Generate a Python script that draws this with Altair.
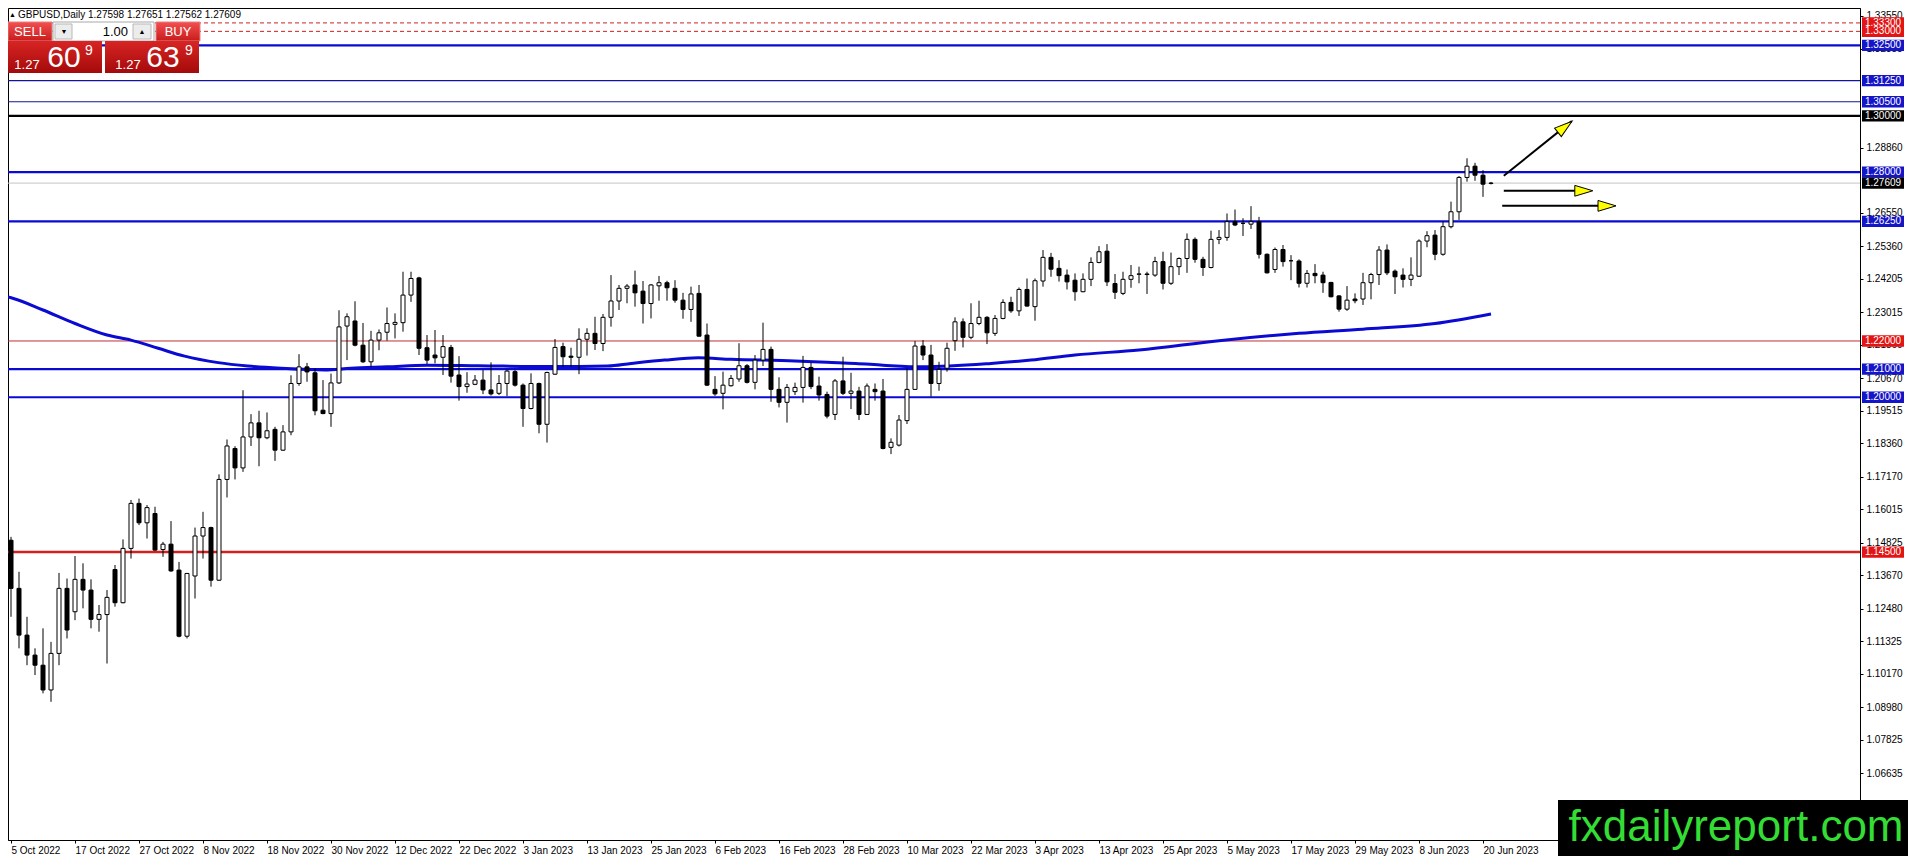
import altair as alt
import pandas as pd

FONT = "Liberation Sans"
W, H = 1852, 832

OPEN = [1.1492,1.1321,1.1155,1.1084,1.1048,1.0960,1.1090,1.1321,1.1238,1.1353,
1.1315,1.1211,1.1228,1.1388,1.1270,1.1463,1.1623,1.1554,1.1587,1.1459,
1.1478,1.1386,1.1151,1.1365,1.1507,1.1537,1.1350,1.1708,1.1818,1.1749,
1.1859,1.1909,1.1856,1.1886,1.1812,1.1877,1.2049,1.2108,1.2087,1.1954,
1.1942,1.2051,1.2253,1.2271,1.2185,1.2126,1.2203,1.2231,1.2259,1.2265,
1.2363,1.2424,1.2176,1.2150,1.2142,1.2177,1.2079,1.2038,1.2046,1.2061,
1.2026,1.2014,1.2049,1.2091,1.2043,1.1960,1.2049,1.1904,1.2082,1.2180,
1.2146,1.2142,1.2206,1.2227,1.2191,1.2284,1.2342,1.2387,1.2399,1.2377,
1.2333,1.2396,1.2407,1.2387,1.2345,1.2312,1.2369,1.2221,1.2028,1.2014,
1.2041,1.2065,1.2112,1.2053,1.2132,1.2170,1.2028,1.1982,1.2020,1.2035,
1.2106,1.2040,1.2010,1.1939,1.2058,1.2014,1.2022,1.1939,1.2028,1.2022,
1.1822,1.1830,1.1917,1.2028,1.2182,1.2150,1.2049,1.2103,1.2201,1.2268,
1.2213,1.2262,1.2284,1.2227,1.2280,1.2337,1.2307,1.2383,1.2322,1.2413,
1.2497,1.2458,1.2434,1.2416,1.2375,1.2419,1.2479,1.2519,1.2404,1.2369,
1.2419,1.2437,1.2438,1.2434,1.2482,1.2405,1.2464,1.2493,1.2561,1.2490,
1.2461,1.2561,1.2568,1.2624,1.2618,1.2615,1.2624,1.2508,1.2454,1.2525,
1.2485,1.2484,1.2405,1.2440,1.2434,1.2408,1.2360,1.2313,1.2349,1.2349,
1.2407,1.2436,1.2523,1.2448,1.2434,1.2419,1.2430,1.2555,1.2576,1.2508,
1.2606,1.2659,1.2781,1.2821,1.2789,1.27598]

HIGH = [1.1504,1.1380,1.1220,1.1108,1.1179,1.1131,1.1376,1.1356,1.1436,1.1410,
1.1353,1.1262,1.1315,1.1404,1.1495,1.1635,1.1640,1.1617,1.1611,1.1486,
1.1560,1.1415,1.1376,1.1537,1.1593,1.1540,1.1726,1.1850,1.1826,1.2025,
1.1940,1.1952,1.1946,1.1895,1.1901,1.2078,1.2153,1.2122,1.2102,1.2061,
1.2084,1.2309,1.2298,1.2341,1.2264,1.2236,1.2241,1.2319,1.2298,1.2446,
1.2446,1.2428,1.2221,1.2239,1.2221,1.2186,1.2146,1.2089,1.2079,1.2097,
1.2124,1.2079,1.2099,1.2097,1.2049,1.2085,1.2052,1.2091,1.2207,1.2194,
1.2176,1.2245,1.2245,1.2286,1.2296,1.2434,1.2399,1.2402,1.2450,1.2413,
1.2402,1.2431,1.2414,1.2416,1.2371,1.2393,1.2399,1.2262,1.2075,1.2091,
1.2079,1.2192,1.2118,1.2150,1.2265,1.2180,1.2071,1.2047,1.2052,1.2147,
1.2123,1.2073,1.2020,1.2065,1.2144,1.2087,1.2037,1.2049,1.2049,1.2065,
1.1854,1.1937,1.2103,1.2200,1.2203,1.2186,1.2126,1.2194,1.2284,1.2280,
1.2334,1.2343,1.2288,1.2292,1.2348,1.2357,1.2390,1.2422,1.2422,1.2523,
1.2513,1.2487,1.2454,1.2440,1.2440,1.2497,1.2537,1.2544,1.2438,1.2446,
1.2470,1.2464,1.2446,1.2499,1.2517,1.2514,1.2497,1.2582,1.2568,1.2499,
1.2592,1.2594,1.2653,1.2667,1.2636,1.2679,1.2641,1.2511,1.2532,1.2541,
1.2505,1.2490,1.2452,1.2473,1.2446,1.2410,1.2363,1.2395,1.2369,1.2442,
1.2442,1.2537,1.2543,1.2454,1.2458,1.2497,1.2561,1.2590,1.2594,1.2624,
1.2695,1.2786,1.2849,1.2833,1.2807,1.27651]

LOW = [1.1220,1.1108,1.1048,1.1013,1.0948,1.0918,1.1048,1.1143,1.1208,1.1250,
1.1179,1.1167,1.1054,1.1256,1.1268,1.1427,1.1546,1.1498,1.1455,1.1433,
1.1380,1.1147,1.1143,1.1285,1.1427,1.1327,1.1348,1.1644,1.1708,1.1735,
1.1827,1.1755,1.1851,1.1774,1.1810,1.1865,1.2041,1.2055,1.1936,1.1940,
1.1895,1.2047,1.2132,1.2181,1.2122,1.2108,1.2167,1.2201,1.2209,1.2233,
1.2339,1.2150,1.2118,1.2120,1.2079,1.2052,1.1988,1.2016,1.2043,1.2011,
1.2006,1.2008,1.2004,1.2038,1.1895,1.1957,1.1872,1.1839,1.2079,1.2109,
1.2109,1.2082,1.2148,1.2168,1.2164,1.2251,1.2310,1.2334,1.2322,1.2262,
1.2280,1.2343,1.2343,1.2336,1.2279,1.2268,1.2215,1.2040,1.2005,1.1957,
1.2038,1.2055,1.2049,1.2028,1.2111,1.1984,1.1964,1.1910,1.2008,1.1981,
1.2029,1.1988,1.1925,1.1919,1.2008,1.1958,1.1919,1.1937,1.1988,1.1815,
1.1798,1.1825,1.1905,1.2026,1.2132,1.2002,1.2023,1.2091,1.2165,1.2177,
1.2206,1.2256,1.2189,1.2218,1.2277,1.2300,1.2289,1.2322,1.2272,1.2393,
1.2428,1.2411,1.2383,1.2343,1.2373,1.2395,1.2476,1.2395,1.2349,1.2363,
1.2389,1.2405,1.2367,1.2428,1.2383,1.2399,1.2434,1.2442,1.2478,1.2431,
1.2458,1.2544,1.2556,1.2608,1.2573,1.2598,1.2493,1.2440,1.2442,1.2464,
1.2416,1.2390,1.2390,1.2405,1.2371,1.2355,1.2304,1.2307,1.2334,1.2328,
1.2348,1.2399,1.2434,1.2367,1.2390,1.2395,1.2428,1.2533,1.2487,1.2503,
1.2600,1.2630,1.2766,1.2769,1.2712,1.27562]

CLOSE = [1.1321,1.1155,1.1084,1.1048,1.0960,1.1090,1.1321,1.1173,1.1353,1.1315,
1.1211,1.1228,1.1289,1.1270,1.1463,1.1623,1.1554,1.1608,1.1457,1.1478,
1.1383,1.1151,1.1374,1.1507,1.1537,1.1350,1.1708,1.1827,1.1749,1.1859,
1.1909,1.1856,1.1881,1.1812,1.1877,1.2049,1.2108,1.2090,1.1952,1.1942,
1.2051,1.2250,1.2286,1.2185,1.2126,1.2203,1.2229,1.2262,1.2266,1.2363,
1.2422,1.2174,1.2132,1.2140,1.2180,1.2075,1.2038,1.2047,1.2061,1.2026,
1.2012,1.2049,1.2093,1.2043,1.1960,1.2049,1.1904,1.2088,1.2177,1.2144,
1.2142,1.2206,1.2227,1.2191,1.2284,1.2342,1.2387,1.2395,1.2371,1.2333,
1.2399,1.2407,1.2389,1.2345,1.2312,1.2367,1.2217,1.2043,1.2012,1.2043,
1.2067,1.2112,1.2053,1.2132,1.2170,1.2028,1.1982,1.2035,1.2035,1.2106,
1.2038,1.2008,1.1933,1.2058,1.2014,1.2022,1.1939,1.2040,1.2020,1.1818,
1.1840,1.1919,1.2028,1.2182,1.2150,1.2049,1.2099,1.2174,1.2268,1.2213,
1.2262,1.2284,1.2229,1.2280,1.2337,1.2307,1.2383,1.2324,1.2414,1.2497,
1.2455,1.2432,1.2410,1.2375,1.2419,1.2479,1.2517,1.2410,1.2373,1.2419,
1.2432,1.2438,1.2436,1.2482,1.2405,1.2464,1.2493,1.2561,1.2490,1.2461,
1.2561,1.2568,1.2624,1.2612,1.2618,1.2624,1.2508,1.2442,1.2525,1.2482,
1.2485,1.2405,1.2440,1.2432,1.2407,1.2357,1.2313,1.2345,1.2343,1.2407,
1.2436,1.2523,1.2442,1.2428,1.2419,1.2434,1.2555,1.2574,1.2508,1.2606,
1.2659,1.2781,1.2821,1.2789,1.2757,1.27609]

DATE_LABELS = ["5 Oct 2022","17 Oct 2022","27 Oct 2022","8 Nov 2022","18 Nov 2022",
"30 Nov 2022","12 Dec 2022","22 Dec 2022","3 Jan 2023","13 Jan 2023","25 Jan 2023",
"6 Feb 2023","16 Feb 2023","28 Feb 2023","10 Mar 2023","22 Mar 2023","3 Apr 2023",
"13 Apr 2023","25 Apr 2023","5 May 2023","17 May 2023","29 May 2023","8 Jun 2023",
"20 Jun 2023"]

MA_IDX = [-0.375,0.3,4,8,12,15,18.4,21.7,25.9,29.6,33.8,39.2,42.5,47,52,58.4,67.5,74.6,
77.5,81.7,85.9,90,98,102,105.6,109,114,122.5,127.5,133,141,151,161,169,178,185]
MA_VAL = [1.2356,1.2351,1.2310,1.2262,1.2221,1.2203,1.2174,1.2146,1.2123,1.2111,1.2103,
1.2097,1.2103,1.2108,1.2114,1.2112,1.2109,1.2111,1.2120,1.2132,1.2140,1.2135,1.2129,
1.2124,1.2120,1.2114,1.2108,1.2120,1.2132,1.2150,1.2168,1.2201,1.2227,1.2242,1.2262,1.2296]

BLUE_THICK = [1.325, 1.28, 1.2625, 1.21, 1.20]
BLUE_THIN = [1.3125, 1.305]
BLACK_LEVEL = [1.30]
RED_THIN = [1.22]
RED_THICK = [1.145]
RED_DASHED = [1.333, 1.330]
CURRENT = [1.27609]

BOX_RED = [1.333, 1.330, 1.22, 1.145]
BOX_BLUE = [1.325, 1.3125, 1.305, 1.28, 1.2625, 1.21, 1.20]
BOX_BLACK = [1.30, 1.27609]

Y_TICKS = [1.3355,1.32385,1.2886,1.2655,1.2536,1.24205,1.23015,
1.2186,1.2067,1.19515,1.1836,1.1717,1.16015,1.14825,1.1367,1.1248,1.11325,1.1017,
1.0898,1.07825,1.06635]

ARROW_X0 = [186.6, 186.6, 186.4]
ARROW_Y0 = [1.2787, 1.27336, 1.2680]
ARROW_X1 = [195.1, 196.6, 199.4]
ARROW_Y1 = [1.2981, 1.27336, 1.2680]
HEAD_X = [194.25, 196.6, 199.5]
HEAD_Y = [1.2961, 1.27336, 1.2680]
HEAD_ANGLE = [321.5, 0, 0]

BLUE = "#0a0ad2"
XS = alt.Scale(domain=[-0.375, 231.125], nice=False, zero=False, padding=0)
YS = alt.Scale(domain=[1.0427, 1.3383], nice=False, zero=False, padding=0)

df = pd.DataFrame({"i": list(range(len(OPEN))), "open": OPEN, "high": HIGH,
                   "low": LOW, "close": CLOSE})

label_arr = "[" + ",".join("'" + s + "'" for s in DATE_LABELS) + "]"
XA = alt.Axis(values=list(range(0, 8 * len(DATE_LABELS), 8)),
              labelExpr=label_arr + "[round(datum.value/8)]",
              labelAlign="left", labelBaseline="top", labelPadding=2,
              tickSize=3, tickColor="black", domainColor="black",
              labelColor="black", labelFont=FONT, labelFontSize=10,
              grid=False, title=None, labelOverlap=False, labelFlush=False,
              labelBound=False, orient="bottom")
YA = alt.Axis(values=Y_TICKS, format=".5f", orient="right", tickSize=3,
              tickColor="black", domainColor="black", labelColor="black",
              labelFont=FONT, labelFontSize=10, labelPadding=3, grid=False,
              title=None, labelOverlap=False, labelFlush=False, zindex=0)


def X(field):
    return alt.X(field, scale=XS, axis=XA)


def Y(field):
    return alt.Y(field, scale=YS, axis=YA)


def levels(vals, color, width, dash=None):
    kw = dict(color=color, strokeWidth=width)
    if dash:
        kw["strokeDash"] = dash
    return alt.Chart(pd.DataFrame({"p": vals})).mark_rule(**kw).encode(y=Y("p:Q"))


BOX_PATH = "M-1,-0.27L1,-0.27L1,0.27L-1,0.27Z"


def boxes(vals, color):
    d = pd.DataFrame({"p": vals, "t": [f"{v:.5f}" for v in vals]})
    b = alt.Chart(d).mark_point(shape=BOX_PATH, size=1764, filled=True, fill=color,
                                opacity=1, strokeWidth=0).encode(
        x=alt.value(W + 23), y=Y("p:Q"))
    t = alt.Chart(d).mark_text(color="white", font=FONT, fontSize=10, align="center",
                               baseline="middle").encode(
        x=alt.value(W + 23), y=Y("p:Q"), text="t:N")
    return [b, t]


ONE = pd.DataFrame({"k": [0]})


def prect(x0, x1, y0, y1, fill, stroke=None):
    kw = dict(fill=fill)
    if stroke:
        kw["stroke"] = stroke
        kw["strokeWidth"] = 1
    return alt.Chart(ONE).mark_rect(**kw).encode(
        x=alt.value(x0), x2=alt.value(x1), y=alt.value(y0), y2=alt.value(y1))


def ptext(x, y, s, size, color, align="center", weight="normal", font=FONT):
    return alt.Chart(ONE).mark_text(text=s, fontSize=size, color=color, align=align,
                                    baseline="middle", font=font,
                                    fontWeight=weight).encode(
        x=alt.value(x), y=alt.value(y))


def grad(c0, c1):
    return alt.LinearGradient(gradient="linear",
                              stops=[alt.GradientStop(color=c0, offset=0),
                                     alt.GradientStop(color=c1, offset=1)],
                              x1=0, x2=0, y1=0, y2=1)


wicks = alt.Chart(df).mark_rule(color="black", strokeWidth=1).encode(
    x=X("i:Q"), y=Y("low:Q"), y2="high:Q")

layers = [
    levels(CURRENT, "#c4c4c4", 1),
    levels(RED_DASHED, "#cc2222", 1, [4, 3]),
    levels(BLUE_THIN, "#141496", 1.2),
    levels(BLUE_THICK, BLUE, 2.2),
    levels(BLACK_LEVEL, "black", 2.2),
    levels(RED_THIN, "#c03030", 1),
    levels(RED_THICK, "#d42020", 2.4),
]

ma = alt.Chart(pd.DataFrame({"i": MA_IDX, "p": MA_VAL})).mark_line(
    color=BLUE, strokeWidth=3, interpolate="monotone").encode(x=X("i:Q"), y=Y("p:Q"))
layers.append(ma)

bodies = alt.Chart(df).mark_bar(width=4, stroke="black", strokeWidth=1).encode(
    x=X("i:Q"), y=Y("open:Q"), y2="close:Q",
    fill=alt.condition("datum.close >= datum.open", alt.value("white"), alt.value("black")))
layers += [wicks, bodies]

arr = pd.DataFrame({"x0": ARROW_X0, "y0": ARROW_Y0, "x1": ARROW_X1, "y1": ARROW_Y1,
                    "hx": HEAD_X, "hy": HEAD_Y, "a": HEAD_ANGLE})
arrow_lines = alt.Chart(arr).mark_rule(color="black", strokeWidth=2).encode(
    x=X("x0:Q"), x2="x1:Q", y=Y("y0:Q"), y2="y1:Q")
arrow_heads = alt.Chart(arr).mark_point(
    shape="M1,0L-1,-0.6L-1,0.6Z", size=324, filled=True, fill="#ffff00",
    stroke="black", strokeWidth=1, opacity=1).encode(
    x=X("hx:Q"), y=Y("hy:Q"), angle=alt.Angle("a:Q", scale=None))
layers += [arrow_lines, arrow_heads]

layers += boxes(BOX_RED, "#e41414")
layers += boxes(BOX_BLUE, "#1414c8")
layers += boxes(BOX_BLACK, "black")

# title and trading panel
layers += [
    ptext(1, 7, "▲", 7, "black", align="left"),
    ptext(10, 7, "GBPUSD,Daily  1.27598 1.27651 1.27562 1.27609", 10, "black", align="left"),
    prect(0, 44, 14, 33, grad("#f25050", "#c81c1c"), "#e88080"),
    prect(45, 146, 14, 33, "white", "#a8a8a8"),
    prect(47, 64, 16, 31, "#ececec", "#b8b8b8"),
    prect(125, 143, 16, 31, "#ececec", "#b8b8b8"),
    prect(148, 192, 14, 33, grad("#f25050", "#c81c1c"), "#e88080"),
    prect(0, 94, 33, 65, grad("#d82424", "#a40a0a")),
    prect(97, 191, 33, 65, grad("#d82424", "#a40a0a")),
    ptext(22, 24, "SELL", 13, "white"),
    ptext(170, 24, "BUY", 13, "white"),
    ptext(120, 24, "1.00", 13, "black", align="right"),
    ptext(56, 24, "▼", 7, "black"),
    ptext(134, 24, "▲", 7, "black"),
    ptext(19, 57, "1.27", 13, "white"),
    ptext(56, 50, "60", 30, "white"),
    ptext(81, 43, "9", 14, "white"),
    ptext(120, 57, "1.27", 13, "white"),
    ptext(155, 50, "63", 30, "white"),
    ptext(181, 43, "9", 14, "white"),
    # watermark
    prect(1550, 1900, 792, 848, "black"),
    ptext(1728, 820, "fxdailyreport.com", 44, "#33dd33"),
]

chart = alt.layer(*layers).properties(
    width=W, height=H, background="white",
    padding={"left": 0, "top": 0, "right": 48, "bottom": 16},
    autosize=alt.AutoSizeParams(type="none"),
).configure_view(stroke="black", strokeWidth=1)

chart.save("out.html", embed_options={"renderer": "svg", "actions": False})
